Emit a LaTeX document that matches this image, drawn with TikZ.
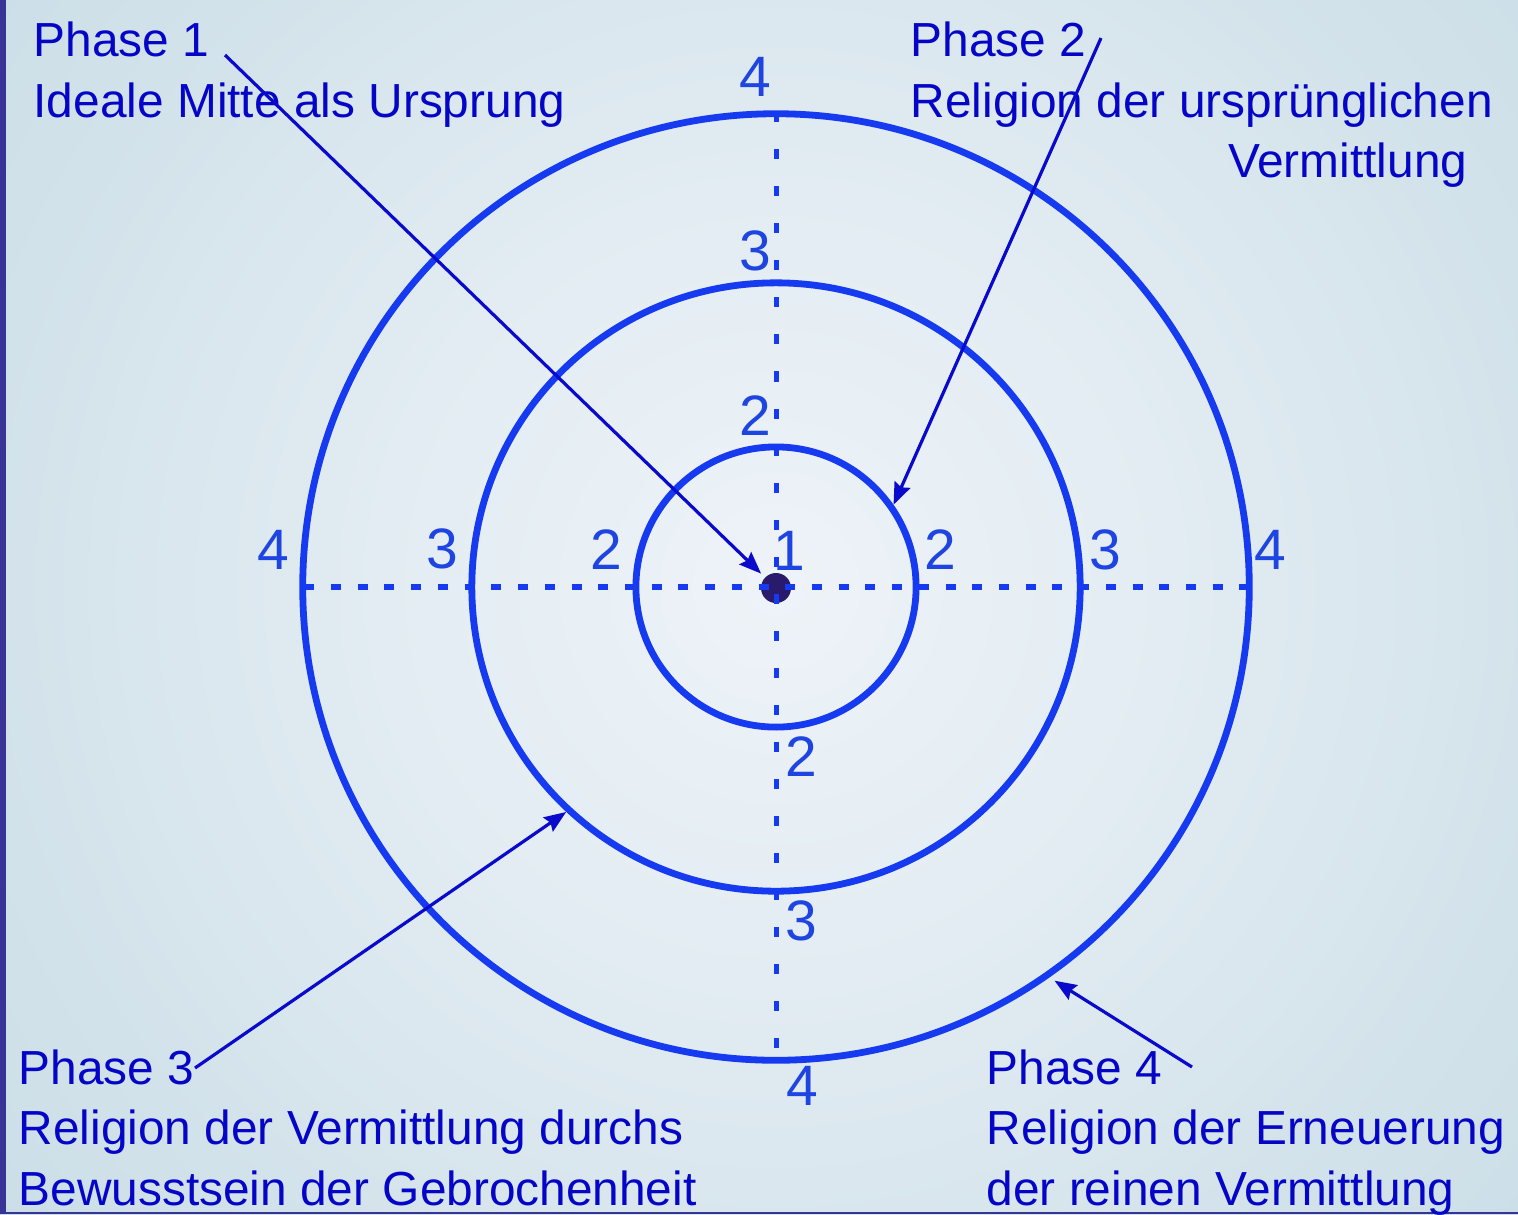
\documentclass[tikz,border=0pt]{standalone}
\usepackage{fontspec}
\setmainfont{Liberation Sans}
\usetikzlibrary{arrows.meta}
\definecolor{txt}{RGB}{5,5,200}
\definecolor{ringc}{RGB}{22,58,240}
\definecolor{numc}{RGB}{30,68,225}
\definecolor{arrc}{RGB}{10,10,205}
\definecolor{dotc}{RGB}{42,26,110}
\definecolor{stripc}{RGB}{55,52,150}
\definecolor{bgA}{HTML}{EEF3F8}
\definecolor{bgB}{HTML}{E2ECF2}
\definecolor{bgC}{HTML}{D2E2EA}
\definecolor{bgD}{HTML}{C4DAE4}
\definecolor{bgE}{HTML}{B9D3DF}
\definecolor{bgF}{HTML}{B0CDDA}
\pgfdeclareradialshading{bgshade}{\pgfpoint{0bp}{0bp}}{color(0bp)=(bgA); color(10bp)=(bgB); color(20bp)=(bgC); color(30bp)=(bgD); color(40bp)=(bgE); color(50bp)=(bgF)}
\begin{document}
\begin{tikzpicture}[x=0.01cm,y=-0.01cm,
  ringnode/.style={circle, draw=ringc, line width=0.068cm, inner sep=0pt},
  hdash/.style={draw=ringc, line width=0.055cm, dash pattern=on 0.1cm off 0.167cm, dash phase=-0.05cm},
  vdash/.style={draw=ringc, line width=0.05cm, dash pattern=on 0.1cm off 0.27cm, dash phase=-0.02cm},
  numlbl/.style={text=numc, inner sep=0pt, font=\fontsize{16.2pt}{19pt}\selectfont},
  lbl/.style={text=txt, inner sep=0pt, align=left, font=\fontsize{13.6pt}{17.07pt}\selectfont},
  arr/.style={draw=arrc, line width=0.032cm, -{Stealth[length=0.22cm,width=0.17cm,inset=0.03cm]}}]
\useasboundingbox (0,0) rectangle (1518,1214);
\begin{scope}
\clip (0,0) rectangle (1518,1214);
\shade[shading=bgshade] (776,587) circle [radius=10cm];
\end{scope}
\fill[stripc] (0,0) rectangle (6,1214);
\fill[stripc] (0,1212) rectangle (1518,1214);
% rings
\node[ringnode, minimum size=2.80cm] (c1) at (776,587) {};
\node[ringnode, minimum size=6.08cm] (c2) at (776,587) {};
\node[ringnode, minimum size=9.46cm] (c3) at (776,587) {};
% centre dot
\node[circle, fill=dotc, minimum size=0.3cm, inner sep=0pt] (dot) at (776,588) {};
% axes
\draw[hdash] (c3.west) -- (c3.east);
\draw[vdash] (c3.north) -- (c3.south);
% numbers
\node[numlbl] (t4) at (755,77) {4};
\node[numlbl] (t3) at (755,251) {3};
\node[numlbl] (t2) at (755,416) {2};
\node[numlbl] (m1) at (789,551) {1};
\node[numlbl] (l4) at (273,550) {4};
\node[numlbl] (l3) at (442,549) {3};
\node[numlbl] (l2) at (606,550) {2};
\node[numlbl] (r2) at (940,550) {2};
\node[numlbl] (r3) at (1105,550) {3};
\node[numlbl] (r4) at (1270,550) {4};
\node[numlbl] (b2) at (801,757) {2};
\node[numlbl] (b3) at (801,921) {3};
\node[numlbl] (b4) at (802,1086) {4};
% labels
\node[lbl, anchor=base west] (p1) at (33,117) {Phase 1\\Ideale Mitte als Ursprung};
\node[lbl, anchor=base west] (p2) at (910,117) {Phase 2\\Religion der ursprünglichen};
\node[lbl, anchor=base east] (p2b) at (1468,177) {Vermittlung};
\node[lbl, anchor=base west] (p3) at (18,1205) {Phase 3\\Religion der Vermittlung durchs\\Bewusstsein der Gebrochenheit};
\node[lbl, anchor=base west] (p4) at (986,1205) {Phase 4\\Religion der Erneuerung\\der reinen Vermittlung};
% arrows
\coordinate (a1) at (225,55);
\coordinate (a2) at (1101,38);
\coordinate (a3) at (195,1068);
\coordinate (a4) at (1192,1067);
\draw[arr, shorten >=0.05cm] (a1) -- (dot);
\draw[arr] (a2) -- (c1.35.7);
\draw[arr] (a3) -- (c2.227.4);
\draw[arr, shorten >=0.06cm] (a4) -- (c3.305.8);
\end{tikzpicture}
\end{document}
